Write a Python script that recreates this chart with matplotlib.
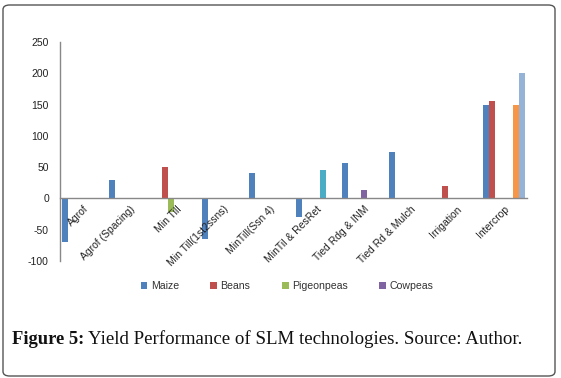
import matplotlib.pyplot as plt
import numpy as np
from matplotlib.patches import FancyBboxPatch

plt.rcParams["axes.unicode_minus"] = False

# Yield performance of SLM technologies (figure 5)
categories = ["Agrof", "Agrof (Spacing)", "Min Till", "Min Till(1st2ssns)", "MinTill(Ssn 4)",
              "MinTil & ResRet", "Tied Rdg & INM", "Tied Rd & Mulch", "Irrigation", "Intercrop"]

maize = [-70, 30, 0, -65, 40, -30, 56, 75, 0, 150]
beans = [0, 0, 50, 0, 0, 0, 0, 0, 20, 156]
pigeonpeas = [0, 0, -22, 0, 0, 0, 0, 0, 0, 0]
cowpeas = [0, 0, 0, 0, 0, 0, 14, 0, 0, 0]
series5 = [0, 0, 0, 0, 0, 45, 0, 0, 0, 0]
series6 = [0, 0, 0, 0, 0, 0, 0, 0, 0, 150]
series7 = [0, 0, 0, 0, 0, 0, 0, 0, 0, 200]

series = [("Maize", maize, "#4F81BD"), ("Beans", beans, "#C0504D"),
          ("Pigeonpeas", pigeonpeas, "#9BBB59"), ("Cowpeas", cowpeas, "#8064A2"),
          ("Series5", series5, "#4BACC6"), ("Series6", series6, "#F79646"),
          ("Series7", series7, "#95B3D7")]
legend_names = ["Maize", "Beans", "Pigeonpeas", "Cowpeas"]

fig = plt.figure(figsize=(5.61, 3.78), dpi=100)
ax = fig.add_axes([60 / 561, 1 - 261 / 378, 467 / 561, 219 / 378])
# x axis sits at y=0 (do this first, it resets the ticks)
ax.spines["bottom"].set_position(("data", 0))

x = np.arange(len(categories))
w = 0.129
gap = 1 - len(series) * w
handles = []
for k, (name, vals, col) in enumerate(series):
    b = ax.bar(x - 0.5 + gap / 2 + k * w, vals, width=w, align="edge", color=col, linewidth=0)
    if name in legend_names:
        handles.append((b, name))

ax.set_xlim(-0.5, len(categories) - 0.5)
ax.set_ylim(-100, 250)
ax.set_yticks(np.arange(-100, 251, 50))
ax.set_xticks(x)
ax.set_xticklabels(categories, rotation=45, ha="right", va="top", rotation_mode="anchor",
                   fontfamily="Liberation Sans")
for s in ["top", "right"]:
    ax.spines[s].set_visible(False)
for s in ["bottom", "left"]:
    ax.spines[s].set_color("#888888")
    ax.spines[s].set_linewidth(1.0)
ax.tick_params(axis="both", length=0, labelsize=7.5, labelcolor="#222222")
ax.tick_params(axis="y", pad=8)
ax.tick_params(axis="x", pad=4)
for lab in ax.get_yticklabels():
    lab.set_fontfamily("Liberation Sans")

fig.legend([h for h, _ in handles], [n for _, n in handles], loc="center",
           bbox_to_anchor=(287 / 561, 1 - 286 / 378), ncol=4, frameon=False,
           prop={"family": "Liberation Sans", "size": 7.6}, handlelength=0.65,
           handleheight=0.65, handletextpad=0.3, columnspacing=3.0, labelcolor="#333333")

# rounded frame around the figure
frame = FancyBboxPatch((3 / 561, 2 / 378), 552 / 561, 371 / 378,
                       boxstyle="round,pad=0,rounding_size=0.012", transform=fig.transFigure,
                       fill=False, edgecolor="#555555", linewidth=1.0)
fig.patches.append(frame)

# caption: bold label + regular text
cap_y = 1 - 339 / 378
t1 = fig.text(12 / 561, cap_y, "Figure 5:", fontfamily="Liberation Serif", fontweight="bold",
              fontsize=13.3, va="center", ha="left", color="#111111")
fig.canvas.draw()
bb = t1.get_window_extent(fig.canvas.get_renderer())
fig.text(bb.x1 / fig.bbox.width + 4 / 561, cap_y,
         "Yield Performance of SLM technologies. Source: Author.",
         fontfamily="Liberation Serif", fontsize=13.6, va="center", ha="left", color="#111111")

fig.savefig("out.png", dpi=100)
